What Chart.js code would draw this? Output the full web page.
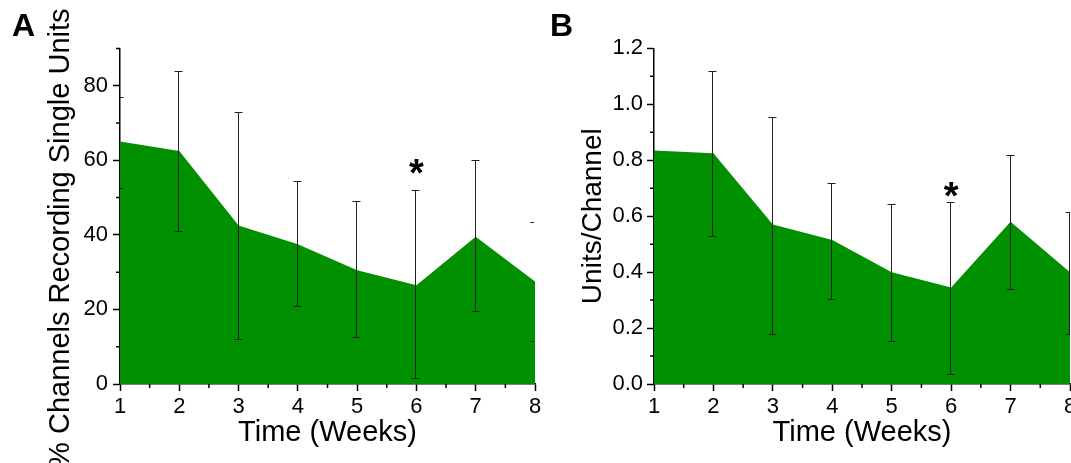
<!DOCTYPE html>
<html><head><meta charset="utf-8">
<script src="https://cdn.jsdelivr.net/npm/chart.js@4.4.1/dist/chart.umd.min.js"></script>
<style>
html,body{margin:0;padding:0;width:1071px;height:463px;overflow:hidden;background:#fff;}
#wa{position:absolute;left:0;top:0;width:560px;height:463px;}
#wb{position:absolute;left:540px;top:0;width:560px;height:463px;}
canvas{display:block;}
</style></head><body>
<div id="wa"><canvas id="ca" width="560" height="463"></canvas></div>
<div id="wb"><canvas id="cb" width="560" height="463"></canvas></div>
<script>
// ---- data ----
const weeks = [1, 2, 3, 4, 5, 6, 7, 8];
const pctSingleUnits = [65, 62.5, 42.5, 37.5, 30.5, 26.5, 39.5, 27.5];
const pctUpper = [77, 84, 73, 54.5, 49, 52, 60, 43.5];
const pctLower = [52.5, 41, 12, 21, 12.5, 1.5, 19.5, 11.5];
const unitsPerChannel = [0.835, 0.825, 0.57, 0.515, 0.40, 0.345, 0.58, 0.40];
const upcUpper = [null, 1.12, 0.955, 0.72, 0.645, 0.65, 0.82, 0.615];
const upcLower = [null, 0.53, 0.18, 0.305, 0.155, 0.035, 0.34, 0.18];
const sigWeek = 6;
const pctStarValue = 59;
const upcStarValue = 0.704;
const panelLabels = ['A', 'B'];
const xTitle = 'Time (Weeks)';
const yTitleA = '% Channels Recording Single Units';
const yTitleB = 'Units/Channel';
const yRangeA = { min: 0, max: 90, major: 20, minor: 10 };
const yRangeB = { min: 0, max: 1.2, major: 0.2, minor: 0.1 };
const xRange = { min: 1, max: 8, major: 1, minor: 0.5 };

// ---- style ----
const FAM = '"Liberation Sans", Arial, sans-serif';
const GREEN = 'rgb(0,144,0)';

function isMajor(v, step) { const r = v / step; return Math.abs(r - Math.round(r)) < 1e-6; }

const extras = {
  id: 'extras',
  afterDatasetsDraw(chart, args, o) {
    const { ctx, chartArea: ca, scales: { x, y } } = chart;
    ctx.save();
    ctx.beginPath();
    ctx.rect(ca.left, ca.top - 3, ca.right - ca.left - o.clipRight, ca.bottom - ca.top + 3);
    ctx.clip();
    ctx.strokeStyle = '#222';
    ctx.lineWidth = 1;
    o.upper.forEach((u, i) => {
      const l = o.lower[i];
      if (u == null || l == null) return;
      const px = Math.round(x.getPixelForValue(o.xs[i])) - 0.5;
      const pu = Math.round(y.getPixelForValue(u)) + 0.5;
      const pl = Math.round(y.getPixelForValue(l)) + 0.5;
      ctx.beginPath();
      ctx.moveTo(px, pu); ctx.lineTo(px, pl);
      ctx.moveTo(px - 4, pu); ctx.lineTo(px + 4, pu);
      ctx.moveTo(px - 4, pl); ctx.lineTo(px + 4, pl);
      ctx.stroke();
    });
    ctx.restore();
    // significance star
    ctx.save();
    ctx.fillStyle = '#000';
    ctx.font = 'bold 38px ' + FAM;
    ctx.textAlign = 'center';
    ctx.textBaseline = 'alphabetic';
    const sx = x.getPixelForValue(o.starX);
    const sy = y.getPixelForValue(o.starY);
    ctx.fillText('*', sx, sy + 0.57 * 38);
    ctx.restore();
  },
  afterDraw(chart, args, o) {
    const { ctx, chartArea: ca, scales: { x, y } } = chart;
    ctx.save();
    ctx.strokeStyle = '#000';
    ctx.lineWidth = 1.5;
    ctx.beginPath();
    for (let k = 0; o.yr.min + k * o.yr.minor <= o.yr.max + 1e-9; k++) {
      const v = o.yr.min + k * o.yr.minor;
      if (isMajor(v, o.yr.major)) continue;
      const py = y.getPixelForValue(v);
      ctx.moveTo(ca.left - 4, py); ctx.lineTo(ca.left, py);
    }
    for (let k = 0; xRange.min + k * xRange.minor <= xRange.max + 1e-9; k++) {
      const v = xRange.min + k * xRange.minor;
      if (isMajor(v, xRange.major)) continue;
      const px = x.getPixelForValue(v);
      ctx.moveTo(px, ca.bottom); ctx.lineTo(px, ca.bottom + 4);
    }
    ctx.stroke();
    ctx.restore();
  }
};

function makeChart(canvasId, cfg) {
  const points = weeks.map((w, i) => ({ x: w, y: cfg.values[i] }));
  return new Chart(document.getElementById(canvasId), {
    type: 'line',
    data: {
      datasets: [{
        data: points,
        fill: 'origin',
        backgroundColor: GREEN,
        borderColor: 'rgba(0,0,0,0)',
        borderWidth: 0,
        pointRadius: 0,
        tension: 0
      }]
    },
    plugins: [extras],
    options: {
      responsive: false,
      animation: false,
      devicePixelRatio: 1,
      layout: { padding: { left: cfg.padLeft, right: cfg.padRight, top: 0, bottom: 0 } },
      plugins: {
        legend: { display: false },
        tooltip: { enabled: false },
        title: {
          display: true, text: cfg.panel, align: 'start', color: '#000',
          font: { family: FAM, size: 32, weight: 'bold' },
          padding: { top: 8, bottom: 2 }
        },
        extras: {
          xs: weeks, upper: cfg.upper, lower: cfg.lower,
          starX: sigWeek, starY: cfg.star, yr: cfg.yr, clipRight: cfg.clipRight
        }
      },
      scales: {
        x: {
          type: 'linear', min: xRange.min, max: xRange.max,
          afterFit: s => { s.height = 79; },
          ticks: {
            stepSize: xRange.major, autoSkip: false, maxRotation: 0, padding: 3,
            color: '#000', font: { family: FAM, size: 22 },
            callback: v => String(v)
          },
          grid: { drawOnChartArea: false, tickLength: 7, tickWidth: 1.5, tickColor: '#000' },
          border: { color: '#000', width: 1.5 },
          title: {
            display: true, text: xTitle, color: '#000',
            font: { family: FAM, size: 29 }, padding: { top: 0, bottom: 12.5 }
          }
        },
        y: {
          type: 'linear', min: cfg.yr.min, max: cfg.yr.max,
          afterFit: s => {
            s.width = cfg.yWidth;
            if (!s._titleShift) {
              const orig = s.drawTitle;
              s.drawTitle = function () {
                const t = this.top, b = this.bottom;
                this.top += cfg.titleShift; this.bottom += cfg.titleShift;
                orig.call(this);
                this.top = t; this.bottom = b;
              };
              s._titleShift = true;
            }
          },
          ticks: {
            stepSize: cfg.yr.major, autoSkip: false, padding: cfg.tickPad,
            color: '#000', font: { family: FAM, size: 22 },
            callback: v => isMajor(v, cfg.yr.major) ? cfg.fmt(v) : ''
          },
          grid: {
            drawOnChartArea: false, tickLength: 7, tickWidth: 1.5,
            tickColor: c => (c.tick && isMajor(c.tick.value, cfg.yr.major)) ? '#000' : 'rgba(0,0,0,0)'
          },
          border: { color: '#000', width: 1.5 },
          title: {
            display: true, text: cfg.yTitle, color: '#000',
            font: { family: FAM, size: cfg.yTitleSize }, padding: { top: cfg.yTitlePad }
          }
        }
      }
    }
  });
}

makeChart('ca', {
  panel: panelLabels[0], values: pctSingleUnits, upper: pctUpper, lower: pctLower,
  star: pctStarValue, yr: yRangeA, padLeft: 12, padRight: 25, yWidth: 108,
  tickPad: 5, fmt: v => String(v), yTitle: yTitleA, yTitleSize: 29, yTitlePad: 31.6,
  titleShift: 22, clipRight: 1
});
makeChart('cb', {
  panel: panelLabels[1], values: unitsPerChannel, upper: upcUpper, lower: upcLower,
  star: upcStarValue, yr: yRangeB, padLeft: 10, padRight: 30, yWidth: 104,
  tickPad: 4, fmt: v => Number(v).toFixed(1), yTitle: yTitleB, yTitleSize: 28, yTitlePad: 26,
  titleShift: 0, clipRight: 0
});
</script>
</body></html>
